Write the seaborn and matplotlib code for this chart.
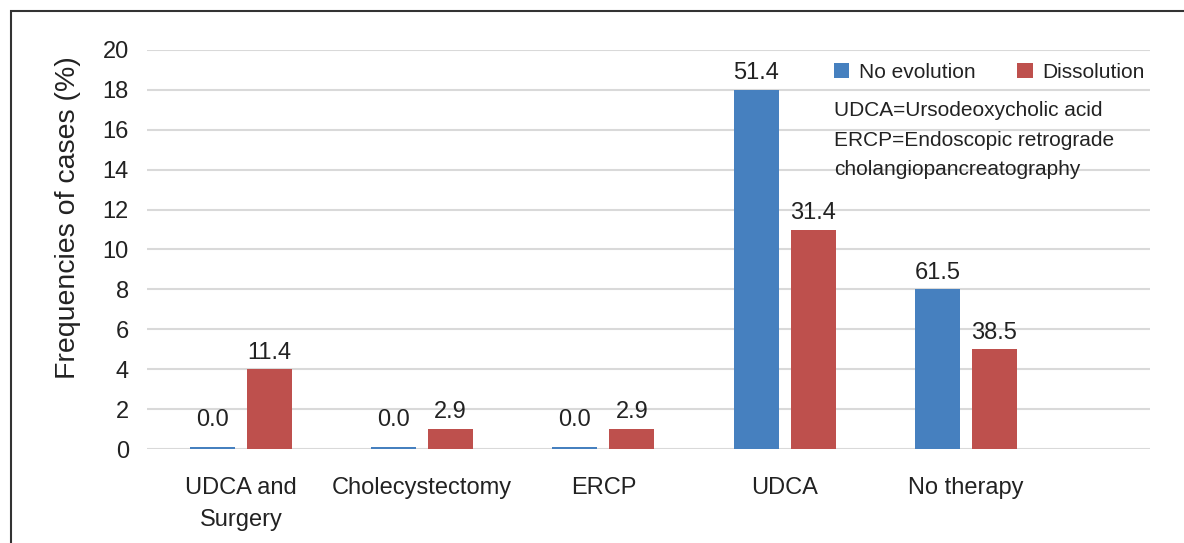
import matplotlib
matplotlib.use("Agg")
import matplotlib.pyplot as plt
from matplotlib.patches import Rectangle, Patch
import seaborn as sns
import pandas as pd

categories = ["UDCA and\nSurgery", "Cholecystectomy", "ERCP", "UDCA", "No therapy"]
series_names = ["No evolution", "Dissolution"]
no_evolution = [0.12, 0.12, 0.12, 18, 8]
dissolution = [4, 1, 1, 11, 5]
no_evolution_labels = ["0.0", "0.0", "0.0", "51.4", "61.5"]
dissolution_labels = ["11.4", "2.9", "2.9", "31.4", "38.5"]
yticks = [0, 2, 4, 6, 8, 10, 12, 14, 16, 18, 20]
note_lines = ["UDCA=Ursodeoxycholic acid", "ERCP=Endoscopic retrograde", "cholangiopancreatography"]

colors = ["#4680BF", "#BE504D"]

df = pd.DataFrame({
    "cat": categories * 2,
    "series": [series_names[0]] * len(categories) + [series_names[1]] * len(categories),
    "val": no_evolution + dissolution,
})

sns.set_theme(style="white")
plt.rcParams["font.family"] = ["Liberation Sans", "DejaVu Sans"]

fig = plt.figure(figsize=(11.84, 5.43), dpi=100)
ax = fig.add_axes([147 / 1184, 1 - 449 / 543, (1150 - 147) / 1184, (449 - 50) / 543])

sns.barplot(data=df, x="cat", y="val", hue="series", order=categories,
            hue_order=series_names, palette=colors, width=0.63, gap=0.21,
            saturation=1, ax=ax, legend=False, zorder=3, linewidth=0,
            edgecolor="none")

ax.set_ylim(0, 20)
ax.set_xlim(-0.518, 5.016)
ax.set_yticks(yticks)
ax.set_yticklabels([str(t) for t in yticks], fontsize=17, color="#222222")
ax.tick_params(axis="y", length=0, pad=13)
ax.tick_params(axis="x", length=0, pad=20, labelsize=17, labelcolor="#222222")
for t in ax.get_xticklabels():
    t.set_linespacing(1.6)
ax.grid(axis="y", color="#d9d9d9", linewidth=1.5, zorder=0)
ax.grid(axis="x", visible=False)
for s in ax.spines.values():
    s.set_visible(False)
ax.set_xlabel("")
ax.set_ylabel("Frequencies of cases (%)", fontsize=20.5, color="#222222")
ax.yaxis.set_label_coords(-0.066, 0.58)

label_sets = [no_evolution_labels, dissolution_labels]
for container, labels in zip(ax.containers, label_sets):
    for bar, lab in zip(container, labels):
        h = bar.get_height()
        pad = 11 if lab == "0.0" else 4
        ax.annotate(lab, (bar.get_x() + bar.get_width() / 2, h),
                    xytext=(0, pad), textcoords="offset points",
                    ha="center", va="bottom", fontsize=17, color="#222222",
                    zorder=4)

handles = [Patch(facecolor=c, edgecolor="none") for c in colors]
fig.legend(handles, series_names, loc="upper left",
           bbox_to_anchor=(815 / 1184, 1 - 44 / 543), ncol=2, frameon=False,
           fontsize=15, handlelength=0.75, handleheight=0.75, handletextpad=0.45,
           columnspacing=2.0, labelcolor="#222222")

fig.text(834 / 1184, 1 - 101 / 543, "\n".join(note_lines), fontsize=15,
         color="#222222", va="top", ha="left", linespacing=1.7)

fig.patches.append(Rectangle((11 / 1184, -0.1), 1.2, 1 - 11 / 543 + 0.1,
                             transform=fig.transFigure, fill=False,
                             edgecolor="#333333", linewidth=1.5))

fig.savefig("out.png", dpi=100)
